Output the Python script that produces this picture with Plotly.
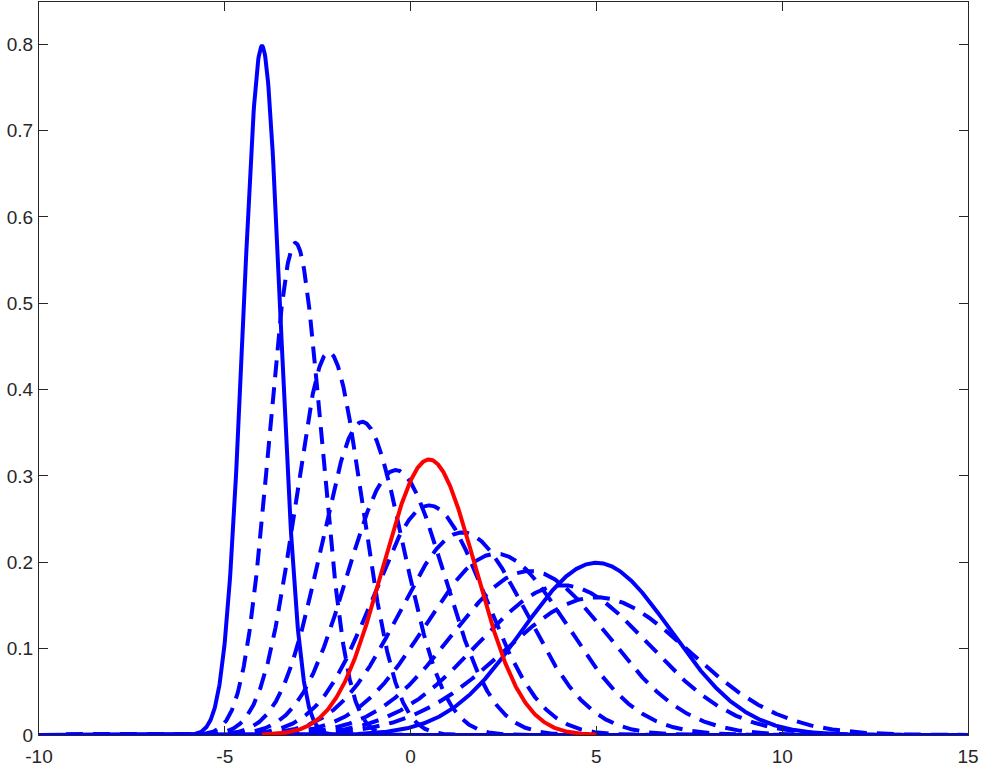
import numpy as np
import plotly.graph_objects as go

# Gaussian parameters
start_mean, start_sigma = -4.0, 0.5
end_mean, end_sigma = 5.0, 2.0
mid_mean, mid_sigma = 0.5, 1.25
dashed_means = [-3.1, -2.2, -1.3, -0.4, 0.5, 1.4, 2.3, 3.2, 4.1, 5.0]
dashed_sigmas = [0.7, 0.9, 1.1, 1.3, 1.5, 1.7, 1.9, 2.1, 2.3, 2.5]
x_ticks = [-10, -5, 0, 5, 10, 15]
y_ticks = [0, 0.1, 0.2, 0.3, 0.4, 0.5, 0.6, 0.7, 0.8]
y_tick_text = ["0", "0.1", "0.2", "0.3", "0.4", "0.5", "0.6", "0.7", "0.8"]

x = np.linspace(-10, 15, 2001)
x_mid = np.linspace(-4, 5, 601)


def pdf(xx, m, s):
    return np.exp(-0.5 * ((xx - m) / s) ** 2) / (s * np.sqrt(2 * np.pi))


fig = go.Figure()
for m, s in zip(dashed_means, dashed_sigmas):
    fig.add_trace(go.Scatter(x=x, y=pdf(x, m, s), mode="lines",
                             line=dict(color="#0000FF", width=4, dash="17px,10px")))
for m, s in [(start_mean, start_sigma), (end_mean, end_sigma)]:
    fig.add_trace(go.Scatter(x=x, y=pdf(x, m, s), mode="lines",
                             line=dict(color="#0000FF", width=4)))
fig.add_trace(go.Scatter(x=x_mid, y=pdf(x_mid, mid_mean, mid_sigma), mode="lines",
                         line=dict(color="#FF0000", width=4)))

axis_common = dict(showgrid=False, zeroline=False, showline=True, mirror="ticks",
                   linecolor="#262626", linewidth=1, ticks="inside", ticklen=9,
                   tickcolor="#262626", tickwidth=1, automargin=False,
                   tickfont=dict(family="Liberation Sans", size=19, color="#262626"))
fig.update_layout(
    width=982, height=767,
    margin=dict(l=39, r=14, t=2, b=32),
    paper_bgcolor="white", plot_bgcolor="white",
    showlegend=False,
    xaxis=dict(range=[-10, 15], tickvals=x_ticks, ticktext=[str(t) for t in x_ticks],
               ticklabelstandoff=4, **axis_common),
    yaxis=dict(range=[0, 0.849], tickvals=y_ticks, ticktext=y_tick_text,
               ticklabelstandoff=1, **axis_common),
)
fig.write_html("out.html")
